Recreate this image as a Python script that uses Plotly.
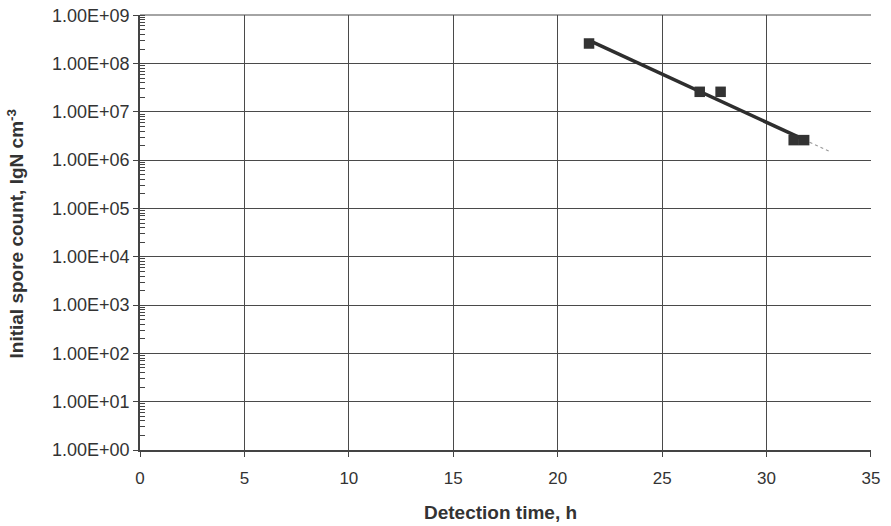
import numpy as np
import plotly.graph_objects as go

detection_time = [21.5, 26.8, 27.8, 31.3, 31.8]
spore_count = [2.6e8, 2.6e7, 2.6e7, 2.6e6, 2.6e6]
trend_x = [21.5, 31.8]
trend_ext_x = [31.8, 33.0]
y_tick_vals = [1e0, 1e1, 1e2, 1e3, 1e4, 1e5, 1e6, 1e7, 1e8, 1e9]
y_tick_text = ["1.00E+00", "1.00E+01", "1.00E+02", "1.00E+03", "1.00E+04",
               "1.00E+05", "1.00E+06", "1.00E+07", "1.00E+08", "1.00E+09"]
x_tick_vals = [0, 5, 10, 15, 20, 25, 30, 35]
x_title = "Detection time, h"
y_title = "Initial spore count, lgN cm<sup>-3</sup>"

slope, intercept = np.polyfit(detection_time, np.log10(spore_count), 1)
trend_y = [10 ** (slope * x + intercept) for x in trend_x]
trend_ext_y = [10 ** (slope * x + intercept) for x in trend_ext_x]

fig = go.Figure()
fig.add_trace(go.Scatter(x=trend_ext_x, y=trend_ext_y, mode="lines",
                         line=dict(color="#9a9a9a", width=1.2, dash="dot"),
                         showlegend=False, hoverinfo="skip"))
fig.add_trace(go.Scatter(x=trend_x, y=trend_y, mode="lines",
                         line=dict(color="#2e2e2e", width=3.5),
                         showlegend=False))
fig.add_trace(go.Scatter(x=detection_time, y=spore_count, mode="markers",
                         marker=dict(symbol="square", size=10.5, color="#333333",
                                     line=dict(width=0)),
                         showlegend=False))

font = "Liberation Sans, Arial, sans-serif"
ink = "#333333"
fig.update_layout(
    width=891, height=526,
    margin=dict(l=140, r=20, t=15, b=76),
    plot_bgcolor="white", paper_bgcolor="white",
    font=dict(family=font, size=18, color=ink),
    xaxis=dict(range=[0, 35.001], tickvals=x_tick_vals, showgrid=True,
               gridcolor="#4a4a4a", gridwidth=1.2, zeroline=False,
               showline=True, linecolor="#444444", linewidth=1.5,
               ticks="outside", ticklen=5, tickcolor="#444444",
               ticklabelstandoff=7, automargin=False,
               tickfont=dict(size=17, color=ink)),
    yaxis=dict(type="log", range=[0, 9.005], tickvals=y_tick_vals, ticktext=y_tick_text,
               showgrid=True, gridcolor="#4a4a4a", gridwidth=1.2, zeroline=False,
               showline=True, linecolor="#444444", linewidth=1.5,
               ticks="outside", ticklen=5, tickcolor="#444444",
               ticklabelstandoff=0, automargin=False, ticklabeloverflow="allow",
               tickfont=dict(size=18, color=ink),
               minor=dict(ticks="inside", ticklen=5, tickcolor="#444444",
                          dtick="D1", showgrid=False)),
    shapes=[dict(type="line", xref="paper", yref="paper", x0=0, x1=1, y0=1, y1=1,
                 line=dict(color="#4a4a4a", width=1.2))],
    annotations=[
        dict(text="<b>" + x_title + "</b>", xref="paper", yref="paper",
             x=0.5, y=0, xanchor="center", yanchor="middle",
             xshift=-5, yshift=-62, showarrow=False,
             font=dict(size=19, color=ink)),
        dict(text="<b>" + y_title + "</b>", xref="paper", yref="paper",
             x=0, y=0.5, xanchor="center", yanchor="middle", textangle=-90,
             xshift=-125, yshift=-2, showarrow=False,
             font=dict(size=19, color=ink)),
    ],
)

fig.write_html("out.html", config={"displayModeBar": False},
               post_script="document.body.style.margin='0';")
